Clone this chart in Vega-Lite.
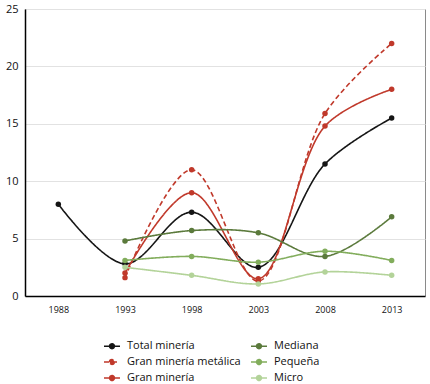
{
  "$schema": "https://vega.github.io/schema/vega-lite/v6.json",
  "width": 400,
  "height": 287,
  "autosize": {"type": "none"},
  "padding": {"left": 25, "top": 9, "right": 5, "bottom": 88},
  "config": {
    "font": "Open Sans",
    "view": {"stroke": "#8a8a8a", "strokeWidth": 1},
    "axis": {"labelColor": "#111", "titleColor": "#111"}
  },
  "data": {
    "values": [
      {"serie": "Total minería", "year": "1988", "value": 8.0},
      {"serie": "Total minería", "year": "1993", "value": 2.8},
      {"serie": "Total minería", "year": "1998", "value": 7.3},
      {"serie": "Total minería", "year": "2003", "value": 2.5},
      {"serie": "Total minería", "year": "2008", "value": 11.5},
      {"serie": "Total minería", "year": "2013", "value": 15.5},
      {"serie": "Gran minería metálica", "year": "1993", "value": 1.6},
      {"serie": "Gran minería metálica", "year": "1998", "value": 11.0},
      {"serie": "Gran minería metálica", "year": "2003", "value": 1.3},
      {"serie": "Gran minería metálica", "year": "2008", "value": 15.9},
      {"serie": "Gran minería metálica", "year": "2013", "value": 22.0},
      {"serie": "Gran minería", "year": "1993", "value": 2.0},
      {"serie": "Gran minería", "year": "1998", "value": 9.0},
      {"serie": "Gran minería", "year": "2003", "value": 1.5},
      {"serie": "Gran minería", "year": "2008", "value": 14.8},
      {"serie": "Gran minería", "year": "2013", "value": 18.0},
      {"serie": "Mediana", "year": "1993", "value": 4.8},
      {"serie": "Mediana", "year": "1998", "value": 5.7},
      {"serie": "Mediana", "year": "2003", "value": 5.5},
      {"serie": "Mediana", "year": "2008", "value": 3.45},
      {"serie": "Mediana", "year": "2013", "value": 6.9},
      {"serie": "Pequeña", "year": "1993", "value": 3.1},
      {"serie": "Pequeña", "year": "1998", "value": 3.45},
      {"serie": "Pequeña", "year": "2003", "value": 2.95},
      {"serie": "Pequeña", "year": "2008", "value": 3.9},
      {"serie": "Pequeña", "year": "2013", "value": 3.1},
      {"serie": "Micro", "year": "1993", "value": 2.5},
      {"serie": "Micro", "year": "1998", "value": 1.8},
      {"serie": "Micro", "year": "2003", "value": 1.05},
      {"serie": "Micro", "year": "2008", "value": 2.1},
      {"serie": "Micro", "year": "2013", "value": 1.8}
    ]
  },
  "encoding": {
    "x": {
      "field": "year", "type": "ordinal",
      "scale": {"type": "point", "padding": 0.5},
      "axis": {"title": null, "labelAngle": 0, "labelFontSize": 9, "ticks": false, "labelPadding": 9, "domainColor": "#000", "domainWidth": 1.5, "grid": false}
    },
    "y": {
      "field": "value", "type": "quantitative",
      "scale": {"domain": [0, 25], "nice": false},
      "axis": {"title": null, "values": [0, 5, 10, 15, 20, 25], "labelFontSize": 11, "ticks": false, "labelPadding": 7, "domainColor": "#000", "domainWidth": 1.5, "gridColor": "#e2e2e2", "gridWidth": 1}
    },
    "color": {
      "field": "serie", "type": "nominal",
      "scale": {
        "domain": ["Total minería", "Gran minería metálica", "Gran minería", "Mediana", "Pequeña", "Micro"],
        "range": ["#151515", "#c0392b", "#c0392b", "#5b7a3c", "#82ad5c", "#b3d399"]
      },
      "legend": {
        "title": null, "orient": "none", "legendX": 78, "legendY": 328, "columns": 2,
        "columnPadding": 6, "rowPadding": 1, "labelFontSize": 11, "labelColor": "#111",
        "symbolType": "M-1,0L1,0M-0.3,0A0.3,0.3,0,1,1,0.3,0A0.3,0.3,0,1,1,-0.3,0Z",
        "symbolSize": 256, "symbolStrokeWidth": 1.6, "labelOffset": 6,
        "encode": {
          "symbols": {
            "update": {
              "strokeDash": {"signal": "datum.value === 'Gran minería metálica' ? [3, 2.5] : [1, 0]"}
            }
          }
        }
      }
    }
  },
  "layer": [
    {
      "mark": {"type": "line", "interpolate": "catmull-rom", "strokeWidth": 1.6},
      "encoding": {
        "strokeDash": {
          "field": "serie", "type": "nominal",
          "scale": {
            "domain": ["Total minería", "Gran minería metálica", "Gran minería", "Mediana", "Pequeña", "Micro"],
            "range": [[1, 0], [5, 3], [1, 0], [1, 0], [1, 0], [1, 0]]
          },
          "legend": {
            "title": null, "orient": "none", "legendX": 78, "legendY": 328, "columns": 2,
            "columnPadding": 6, "rowPadding": 1, "labelFontSize": 11, "labelColor": "#111",
            "symbolType": "M-1,0L1,0M-0.3,0A0.3,0.3,0,1,1,0.3,0A0.3,0.3,0,1,1,-0.3,0Z",
            "symbolSize": 256, "symbolStrokeWidth": 1.6, "labelOffset": 6,
            "encode": {
              "symbols": {
                "update": {
                  "strokeDash": {"signal": "datum.value === 'Gran minería metálica' ? [3, 2.5] : [1, 0]"}
                }
              }
            }
          }
        }
      }
    },
    {
      "mark": {"type": "point", "filled": true, "size": 30, "opacity": 1}
    }
  ]
}
